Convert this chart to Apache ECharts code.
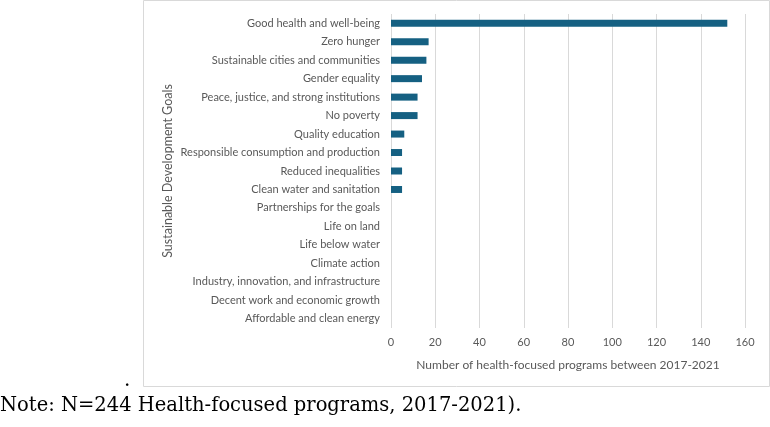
<!DOCTYPE html>
<html>
<head>
<meta charset="utf-8">
<script src="https://cdn.jsdelivr.net/npm/echarts@6/dist/echarts.min.js"></script>
<style>
  html, body { margin: 0; padding: 0; background: #fff; }
  #chart { width: 770px; height: 427px; }
</style>
</head>
<body>
<div id="chart"></div>
<script>
// SDG categories, top to bottom
var goals = [
  'Good health and well-being',
  'Zero hunger',
  'Sustainable cities and communities',
  'Gender equality',
  'Peace, justice, and strong institutions',
  'No poverty',
  'Quality education',
  'Responsible consumption and production',
  'Reduced inequalities',
  'Clean water and sanitation',
  'Partnerships for the goals',
  'Life on land',
  'Life below water',
  'Climate action',
  'Industry, innovation, and infrastructure',
  'Decent work and economic growth',
  'Affordable and clean energy'
];
// number of programs per goal
var programs = [152, 17, 16, 14, 12, 12, 6, 5, 5, 5, 0, 0, 0, 0, 0, 0, 0];
var noteText = 'Note: N=244 Health-focused programs, 2017-2021).';

var chart = echarts.init(document.getElementById('chart'));
var option = {
  animation: false,
  textStyle: { fontFamily: 'Lato' },
  grid: { left: 391, right: 25, top: 14, bottom: 99 },
  xAxis: {
    type: 'value',
    min: 0,
    max: 160,
    interval: 20,
    name: 'Number of health-focused programs between 2017-2021',
    nameLocation: 'middle',
    nameGap: 31,
    nameTextStyle: { color: '#595959', fontSize: 12, fontFamily: 'Lato' },
    axisLine: { show: false },
    axisTick: { show: false },
    axisLabel: { color: '#595959', fontSize: 11, margin: 9 },
    splitLine: { show: true, lineStyle: { color: '#d9d9d9', width: 1 } }
  },
  yAxis: {
    type: 'category',
    data: goals,
    inverse: true,
    name: 'Sustainable Development Goals',
    nameLocation: 'middle',
    nameGap: 217,
    nameRotate: 90,
    nameTextStyle: { color: '#595959', fontSize: 12.5, fontFamily: 'Lato' },
    axisLine: { show: false },
    axisTick: { show: false },
    axisLabel: { color: '#595959', fontSize: 11, margin: 11 },
    splitLine: { show: false }
  },
  series: [{
    type: 'bar',
    data: programs,
    barWidth: 7,
    itemStyle: { color: '#156082' }
  }],
  graphic: [
    {
      type: 'rect',
      shape: { x: 143.5, y: 0.5, width: 626, height: 386 },
      style: { fill: 'none', stroke: '#d9d9d9', lineWidth: 1 },
      silent: true
    },
    {
      type: 'text',
      left: 124, top: 371,
      style: { text: '.', fontSize: 20, fontFamily: 'DejaVu Serif', fill: '#000' }
    },
    {
      type: 'text',
      left: 0, top: 396,
      style: { text: noteText, fontSize: 19.5, fontFamily: 'DejaVu Serif', fill: '#000' }
    }
  ]
};
chart.setOption(option);
</script>
</body>
</html>
